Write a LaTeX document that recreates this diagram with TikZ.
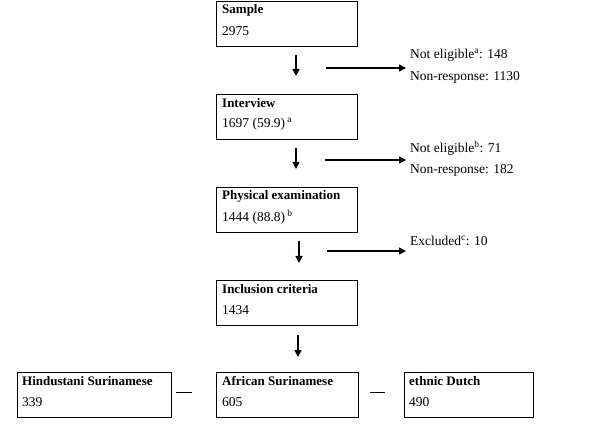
\documentclass[tikz,border=0pt]{standalone}
\usepackage{fontspec}
\setmainfont{Liberation Serif}
\usetikzlibrary{arrows.meta}
\begin{document}
\begin{tikzpicture}[x=1pt,y=-1pt,
  box/.style={draw,line width=1.3pt,minimum width=#1,minimum height=45pt,inner sep=0pt,anchor=north west},
  box/.default=141pt,
  txt/.style={anchor=west,inner sep=0pt,font=\fontsize{13.5}{15}\selectfont},
  hd/.style={txt,font=\fontsize{13}{15}\selectfont\bfseries},
  arr/.style={line width=1.6pt,-{Triangle[length=7pt,width=7pt]}},
  dsh/.style={line width=0.8pt}]
\useasboundingbox (0,0) rectangle (605,438);
% boxes
\node[box] (sample) at (216,1) {};
\node[box] (interview) at (216,94) {};
\node[box] (physical) at (216,187) {};
\node[box] (inclusion) at (216,280) {};
\node[box=154pt] (hindu) at (17,372) {};
\node[box=142pt] (african) at (216,372) {};
\node[box=129pt] (dutch) at (404,372) {};
% box texts
\node[hd] (t1) at (222,10) {Sample};
\node[txt] (n1) at (222,31) {2975};
\node[hd] (t2) at (222,103) {Interview};
\node[txt] (n2) at (222,124) {1697 (59.9)\,\textsuperscript{a}};
\node[hd] (t3) at (222,196) {Physical examination};
\node[txt] (n3) at (222,217) {1444 (88.8)\,\textsuperscript{b}};
\node[hd] (t4) at (222,289) {Inclusion criteria};
\node[txt] (n4) at (222,310) {1434};
\node[hd] (t5) at (22,381) {Hindustani Surinamese};
\node[txt] (n5) at (22,402) {339};
\node[hd] (t6) at (222,381) {African Surinamese};
\node[txt] (n6) at (222,402) {605};
\node[hd] (t7) at (409,381) {ethnic Dutch};
\node[txt] (n7) at (409,402) {490};
% side texts
\node[txt] (s1) at (410,55) {Not eligible\textsuperscript{a}: 148};
\node[txt] (s2) at (410,77) {Non-response: 1130};
\node[txt] (s3) at (410,148) {Not eligible\textsuperscript{b}: 71};
\node[txt] (s4) at (410,170) {Non-response: 182};
\node[txt] (s5) at (410,241) {Excluded\textsuperscript{c}: 10};
% arrow coordinates
\coordinate (d1a) at (296,55); \coordinate (d1b) at (296,76);
\coordinate (r1a) at (326,68); \coordinate (r1b) at (406,68);
\coordinate (d2a) at (296,148); \coordinate (d2b) at (296,169);
\coordinate (r2a) at (325,160); \coordinate (r2b) at (406,160);
\coordinate (d3a) at (299,241); \coordinate (d3b) at (299,263);
\coordinate (r3a) at (327,251); \coordinate (r3b) at (406,251);
\coordinate (d4a) at (298,335); \coordinate (d4b) at (298,357);
\draw[arr] (d1a) -- (d1b);
\draw[arr] (r1a) -- (r1b);
\draw[arr] (d2a) -- (d2b);
\draw[arr] (r2a) -- (r2b);
\draw[arr] (d3a) -- (d3b);
\draw[arr] (r3a) -- (r3b);
\draw[arr] (d4a) -- (d4b);
% dashes
\coordinate (h1a) at (176,392); \coordinate (h1b) at (192,392);
\coordinate (h2a) at (370,392); \coordinate (h2b) at (385,392);
\draw[dsh] (h1a) -- (h1b);
\draw[dsh] (h2a) -- (h2b);
\end{tikzpicture}
\end{document}
